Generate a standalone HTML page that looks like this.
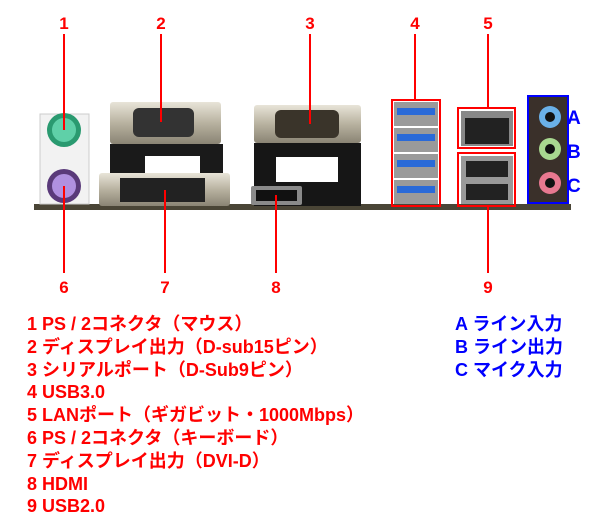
<!DOCTYPE html>
<html><head><meta charset="utf-8"><style>
html,body{margin:0;padding:0;background:#fff;width:600px;height:525px;overflow:hidden}
.t{position:absolute;font-family:"Liberation Sans","Noto Sans CJK JP",sans-serif;font-weight:bold;font-size:18px;line-height:22.8px;white-space:nowrap;transform-origin:0 0}
</style></head><body>
<svg width="600" height="300" style="position:absolute;left:0;top:0" xmlns="http://www.w3.org/2000/svg">
<defs>
<linearGradient id="m" x1="0" y1="0" x2="0" y2="1"><stop offset="0" stop-color="#e8e4d8"/><stop offset="0.5" stop-color="#b8b2a0"/><stop offset="1" stop-color="#8a8474"/></linearGradient>
</defs>
<rect x="34" y="204" width="537" height="6" fill="#4a4536"/>
<rect x="40" y="114" width="49" height="90" fill="#f2f2f2" stroke="#ccc"/>
<circle cx="64" cy="130" r="17" fill="#2a9a70"/><circle cx="64" cy="130" r="12" fill="#5fd0a8"/>
<circle cx="64" cy="186" r="17" fill="#5a3a7a"/><circle cx="64" cy="186" r="12" fill="#b090e0"/>
<rect x="110" y="102" width="111" height="42" rx="3" fill="url(#m)"/>
<rect x="133" y="108" width="61" height="29" rx="6" fill="#333"/>
<rect x="110" y="144" width="113" height="30" fill="#1a1a1a"/>
<rect x="145" y="156" width="55" height="18" fill="#fff"/>
<rect x="99" y="173" width="131" height="33" rx="3" fill="url(#m)"/>
<rect x="120" y="178" width="85" height="24" fill="#222"/>
<rect x="254" y="105" width="107" height="38" rx="3" fill="url(#m)"/>
<rect x="275" y="110" width="64" height="28" rx="6" fill="#3a342a"/>
<rect x="254" y="143" width="107" height="63" fill="#161616"/>
<rect x="276" y="157" width="62" height="25" fill="#fff"/>
<rect x="251" y="186" width="51" height="19" rx="2" fill="#8a8a8a"/>
<rect x="256" y="190" width="41" height="11" fill="#111"/>
<g fill="#9a9a9a"><rect x="394" y="102" width="44" height="24"/><rect x="394" y="128" width="44" height="24"/><rect x="394" y="154" width="44" height="24"/><rect x="394" y="180" width="44" height="24"/></g>
<g fill="#2a6ad8"><rect x="397" y="108" width="38" height="7"/><rect x="397" y="134" width="38" height="7"/><rect x="397" y="160" width="38" height="7"/><rect x="397" y="186" width="38" height="7"/></g>
<rect x="392" y="100" width="48" height="106" fill="none" stroke="#f00" stroke-width="2"/>
<rect x="461" y="111" width="52" height="35" fill="#888"/><rect x="465" y="118" width="44" height="26" fill="#222"/>
<rect x="461" y="156" width="52" height="48" fill="#999"/><rect x="466" y="161" width="42" height="16" fill="#222"/><rect x="466" y="184" width="42" height="16" fill="#222"/>
<rect x="458" y="108" width="57" height="40" fill="none" stroke="#f00" stroke-width="2"/>
<rect x="458" y="153" width="57" height="53" fill="none" stroke="#f00" stroke-width="2"/>
<rect x="529" y="97" width="38" height="106" fill="#3a302a"/>
<circle cx="550" cy="117" r="11" fill="#6ab0e8"/><circle cx="550" cy="117" r="5" fill="#111"/>
<circle cx="550" cy="149" r="11" fill="#a8d890"/><circle cx="550" cy="149" r="5" fill="#111"/>
<circle cx="550" cy="183" r="11" fill="#e87890"/><circle cx="550" cy="183" r="5" fill="#111"/>
<rect x="528" y="96" width="40" height="107" fill="none" stroke="#00f" stroke-width="2"/>
<g font-family="Liberation Sans,sans-serif" font-weight="bold" font-size="19" fill="#00f">
<text x="567" y="124">A</text><text x="567" y="158">B</text><text x="567" y="192">C</text></g>
<g stroke="#f00" stroke-width="2">
<line x1="64" y1="34" x2="64" y2="130"/><line x1="161" y1="34" x2="161" y2="122"/><line x1="310" y1="34" x2="310" y2="124"/>
<line x1="415" y1="34" x2="415" y2="100"/><line x1="488" y1="34" x2="488" y2="108"/>
<line x1="64" y1="186" x2="64" y2="273"/><line x1="165" y1="190" x2="165" y2="273"/><line x1="276" y1="195" x2="276" y2="273"/><line x1="488" y1="206" x2="488" y2="273"/>
</g>
<g font-family="Liberation Sans,sans-serif" font-weight="bold" font-size="17" fill="#f00" text-anchor="middle">
<text x="64" y="29">1</text><text x="161" y="29">2</text><text x="310" y="29">3</text><text x="415" y="29">4</text><text x="488" y="29">5</text>
<text x="64" y="293">6</text><text x="165" y="293">7</text><text x="276" y="293">8</text><text x="488" y="293">9</text>
</g>
</svg>
<div class="t" style="left:27px;top:313px;color:#f00">1 PS / 2コネクタ（マウス）<br>2 ディスプレイ出力（D-sub15ピン）<br>3 シリアルポート（D-Sub9ピン）<br>4 USB3.0<br>5 LANポート（ギガビット・1000Mbps）<br>6 PS / 2コネクタ（キーボード）<br>7 ディスプレイ出力（DVI-D）<br>8 HDMI<br>9 USB2.0</div>
<div class="t" style="left:455px;top:313px;color:#00f">A ライン入力<br>B ライン出力<br>C マイク入力</div>
</body></html>
